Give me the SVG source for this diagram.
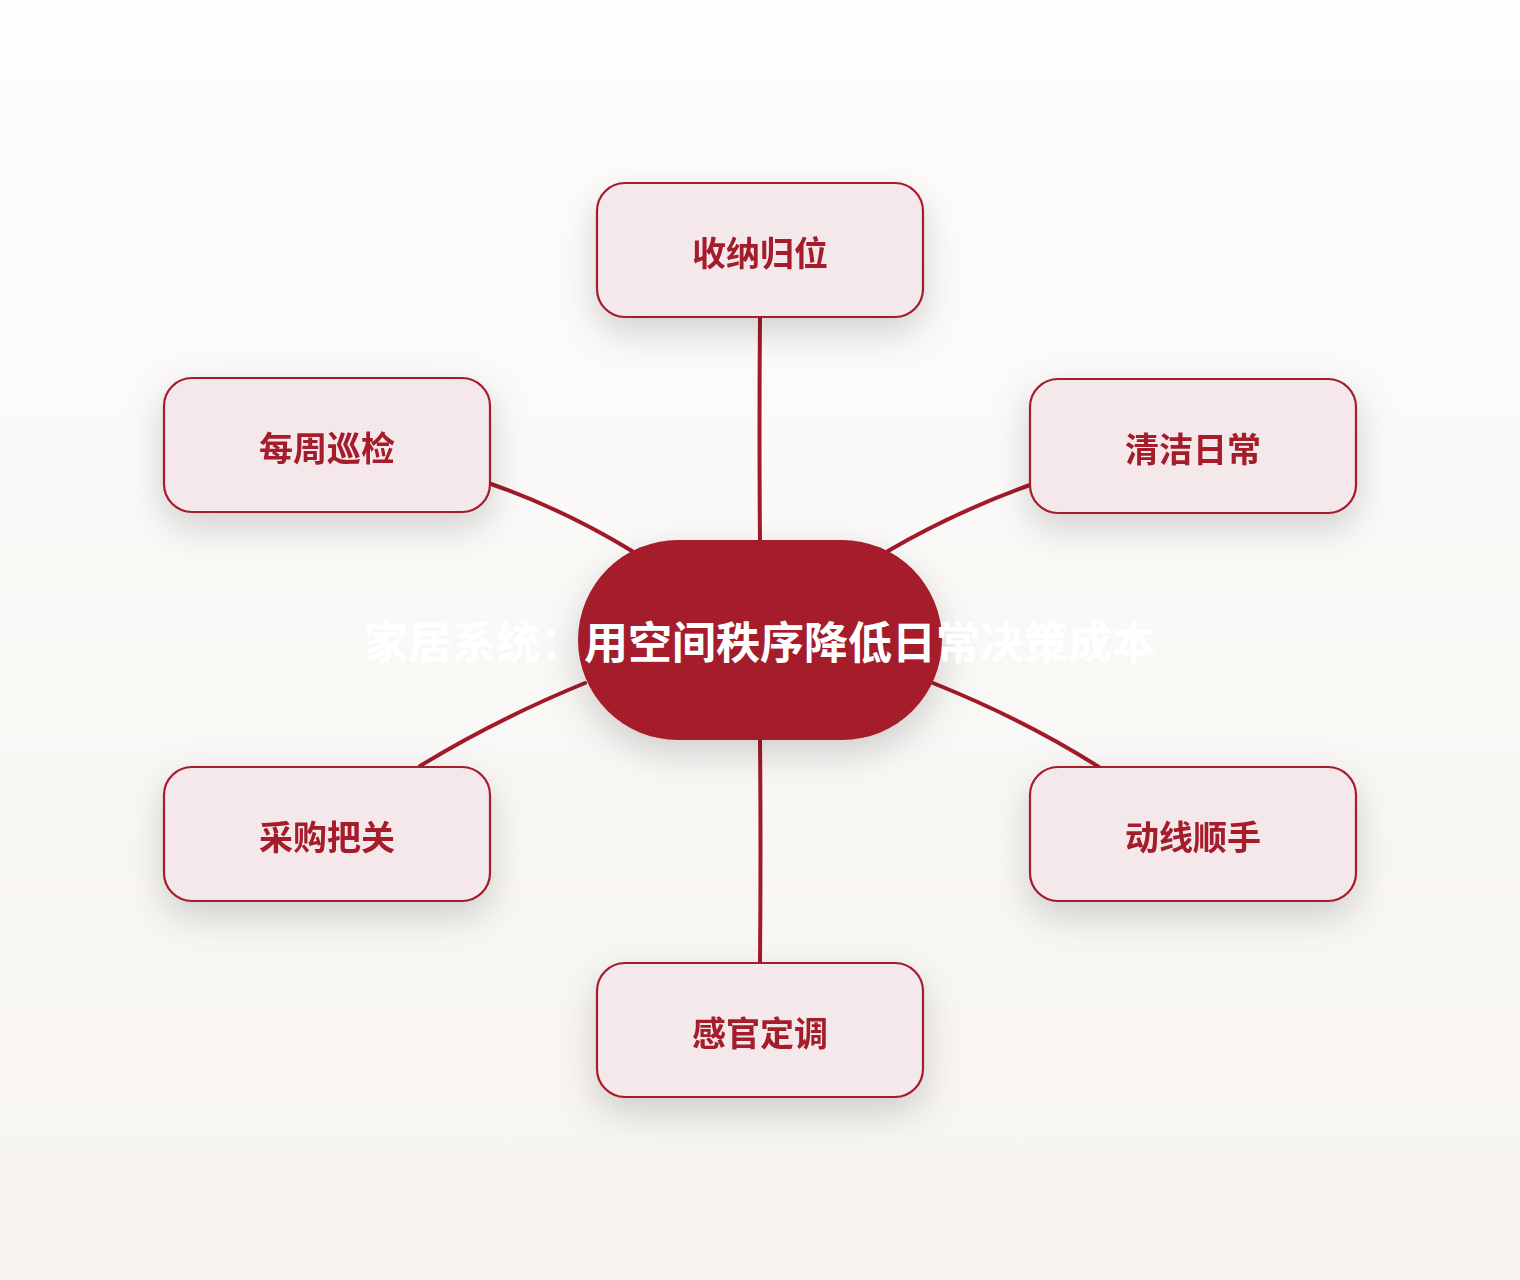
<svg xmlns="http://www.w3.org/2000/svg" width="1520" height="1280" viewBox="0 0 1520 1280">
  <defs>
    <linearGradient id="bg" x1="0" y1="0" x2="0" y2="1">
      <stop offset="0" stop-color="#FDFDFC"/>
      <stop offset="1" stop-color="#F7F4F0"/>
    </linearGradient>
    <filter id="shadow" x="-40%" y="-50%" width="180%" height="220%">
      <feDropShadow dx="0" dy="14" stdDeviation="18" flood-color="#000" flood-opacity="0.17"/>
    </filter>
    <style>
      .edge { fill: none; stroke: #A01A2A; stroke-width: 4; stroke-linecap: round; }
      .node rect { fill: #F4E8EA; stroke: #A51A2A; stroke-width: 2.2; }
      .node text { font-family: "Noto Sans CJK SC", "Noto Sans", sans-serif; font-weight: 700; font-size: 34px; fill: #A51A2A; text-anchor: middle; }
      .hub rect { fill: #A51A2A; }
      .hub text { font-family: "Noto Sans CJK SC", "Noto Sans", sans-serif; font-weight: 700; font-size: 44px; fill: #FFFFFF; text-anchor: middle; }
    </style>
  </defs>
  <rect x="0" y="0" width="1520" height="1280" fill="url(#bg)"/>

  <g id="connectors">
    <path class="edge" d="M760,317 Q759,430 760,542"/>
    <path class="edge" d="M760,738 Q761,850 760,963"/>
    <path class="edge" d="M491,484 Q565,510 632,551"/>
    <path class="edge" d="M1030,485 Q955,512 888,551"/>
    <path class="edge" d="M585,683 Q495,720 420,766"/>
    <path class="edge" d="M933,683 Q1025,720 1099,767"/>
  </g>

  <g id="node-center" class="hub">
    <rect x="578" y="540" width="364" height="200" rx="100" ry="100" filter="url(#shadow)"/>
    <text x="760" y="659">家居系统：用空间秩序降低日常决策成本</text>
  </g>

  <g id="node-shouna" class="node" filter="url(#shadow)">
    <rect x="597" y="183" width="326" height="134" rx="28" ry="28"/>
    <text x="760" y="266">收纳归位</text>
  </g>
  <g id="node-xunjian" class="node" filter="url(#shadow)">
    <rect x="164" y="378" width="326" height="134" rx="28" ry="28"/>
    <text x="327" y="461">每周巡检</text>
  </g>
  <g id="node-qingjie" class="node" filter="url(#shadow)">
    <rect x="1030" y="379" width="326" height="134" rx="28" ry="28"/>
    <text x="1193" y="462">清洁日常</text>
  </g>
  <g id="node-caigou" class="node" filter="url(#shadow)">
    <rect x="164" y="767" width="326" height="134" rx="28" ry="28"/>
    <text x="327" y="850">采购把关</text>
  </g>
  <g id="node-dongxian" class="node" filter="url(#shadow)">
    <rect x="1030" y="767" width="326" height="134" rx="28" ry="28"/>
    <text x="1193" y="850">动线顺手</text>
  </g>
  <g id="node-ganguan" class="node" filter="url(#shadow)">
    <rect x="597" y="963" width="326" height="134" rx="28" ry="28"/>
    <text x="760" y="1046">感官定调</text>
  </g>
</svg>
